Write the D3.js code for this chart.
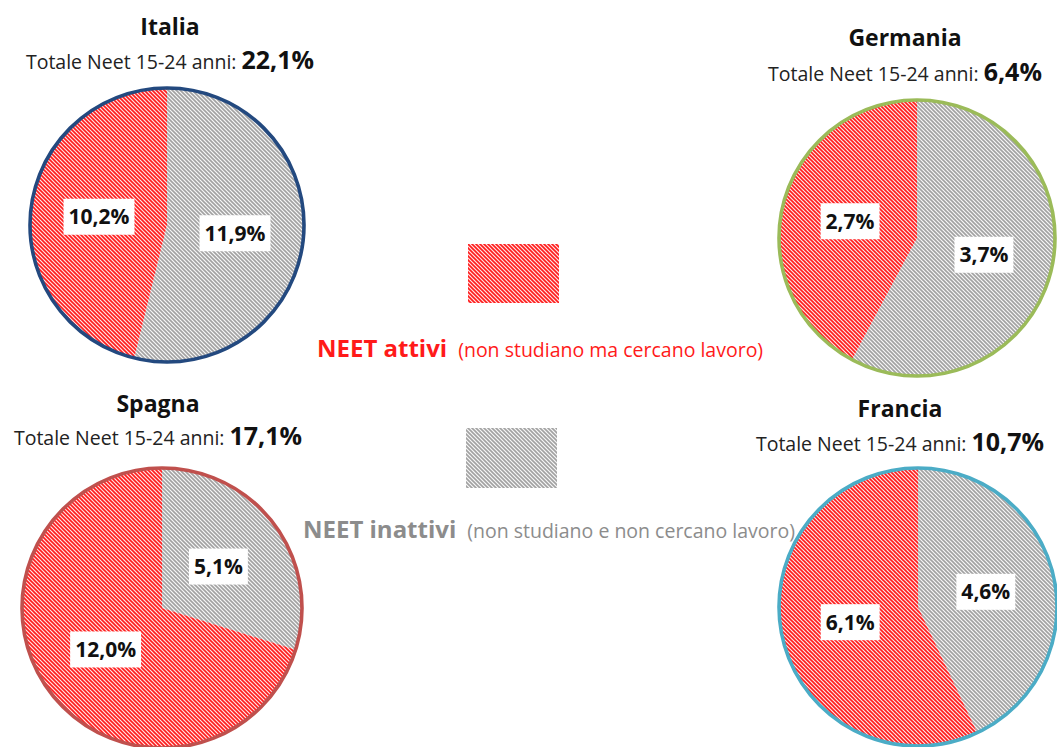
<!DOCTYPE html>
<html><head><meta charset="utf-8">
<script src="https://cdn.jsdelivr.net/npm/d3@7"></script>
<style>
html,body{margin:0;padding:0;background:#fff;}
svg{display:block;font-family:"Open Sans",Lato,sans-serif;}
</style></head>
<body>
<svg id="c" width="1057" height="747"></svg>
<script>
// ---- data ----
const countries = ["Italia", "Germania", "Spagna", "Francia"];
const totals = [22.1, 6.4, 17.1, 10.7];
const inattivi = [11.9, 3.7, 5.1, 4.6];
const attivi = [10.2, 2.7, 12.0, 6.1];
const seriesNames = ["NEET inattivi", "NEET attivi"];
const seriesNotes = ["(non studiano e non cercano lavoro)", "(non studiano ma cercano lavoro)"];
const subtitleLabel = "Totale Neet 15-24 anni: ";

// ---- layout (not data) ----
const layout = [
  {cx:167, cy:225, r:137, border:"#23497f", tx:170, ty1:35, ty2:69},
  {cx:917, cy:238, r:138, border:"#9bbb59", tx:905, ty1:46, ty2:81},
  {cx:162, cy:608, r:140, border:"#c0504d", tx:158, ty1:412, ty2:445},
  {cx:918, cy:607, r:139, border:"#4bacc6", tx:900, ty1:417, ty2:451}
];
const fmt = v => v.toFixed(1).replace(".", ",") + "%";

const svg = d3.select("#c");
const defs = svg.append("defs");
function hatch(id, color, bg){
  const p = defs.append("pattern").attr("id", id)
    .attr("patternUnits","userSpaceOnUse").attr("width",4).attr("height",4);
  p.append("rect").attr("width",4).attr("height",4).attr("fill",bg);
  p.append("path").attr("d","M-1,-1 L5,5 M-1,3 L1,5 M3,-1 L5,1")
    .attr("stroke",color).attr("stroke-width",1.6);
}
hatch("hRed", "#ff1c1c", "#ffe4e4");
hatch("hGrey", "#a2a2a2", "#f7f7f7");
const fills = ["url(#hGrey)", "url(#hRed)"];

const pie = d3.pie().sort(null).value(d => d);
countries.forEach((name, i) => {
  const L = layout[i];
  const arc = d3.arc().innerRadius(0).outerRadius(L.r);
  const g = svg.append("g").attr("transform", `translate(${L.cx},${L.cy})`);
  const arcs = pie([inattivi[i], attivi[i]]);
  g.selectAll("path.slice").data(arcs).join("path").attr("class","slice")
    .attr("d", arc).attr("fill", (d,j) => fills[j]);
  g.append("circle").attr("r", L.r).attr("fill","none")
    .attr("stroke", L.border).attr("stroke-width", 3.6);
  arcs.forEach((d) => {
    const [x,y] = arc.centroid(d);
    const lg = g.append("g").attr("transform", `translate(${x},${y})`);
    const t = lg.append("text").attr("text-anchor","middle").attr("dy","0.36em")
      .attr("font-size",21).attr("font-weight","bold").attr("fill","#111").text(fmt(d.data));
    const w = t.node().getComputedTextLength();
    lg.insert("rect","text").attr("x",-w/2-5).attr("y",-18).attr("width",w+10).attr("height",36).attr("fill","#fff");
  });
  // titles
  svg.append("text").attr("x", L.tx).attr("y", L.ty1).attr("text-anchor","middle")
    .attr("font-size",23).attr("font-weight","bold").attr("fill","#111").text(name);
  const st = svg.append("text").attr("x", L.tx).attr("y", L.ty2).attr("text-anchor","middle").attr("fill","#222");
  st.append("tspan").attr("font-size",19.5).text(subtitleLabel);
  st.append("tspan").attr("font-size",25).attr("font-weight","bold").attr("fill","#111").text(fmt(totals[i]));
});

// legend
const legend = [
  {x:468, y:244, w:91, h:59, tx:317, ty:357, color:"#ff1a1a", k:1},
  {x:466, y:428, w:91, h:60, tx:303, ty:538, color:"#8c8c8c", k:0}
];
legend.forEach(l => {
  svg.append("rect").attr("x",l.x).attr("y",l.y).attr("width",l.w).attr("height",l.h).attr("fill",fills[l.k]);
  const t = svg.append("text").attr("x",l.tx).attr("y",l.ty).attr("fill",l.color);
  t.append("tspan").attr("font-size",24).attr("font-weight","bold").text(seriesNames[l.k]);
  t.append("tspan").attr("font-size",19.5).attr("dx",11).text(seriesNotes[l.k]);
});
</script>
</body></html>
